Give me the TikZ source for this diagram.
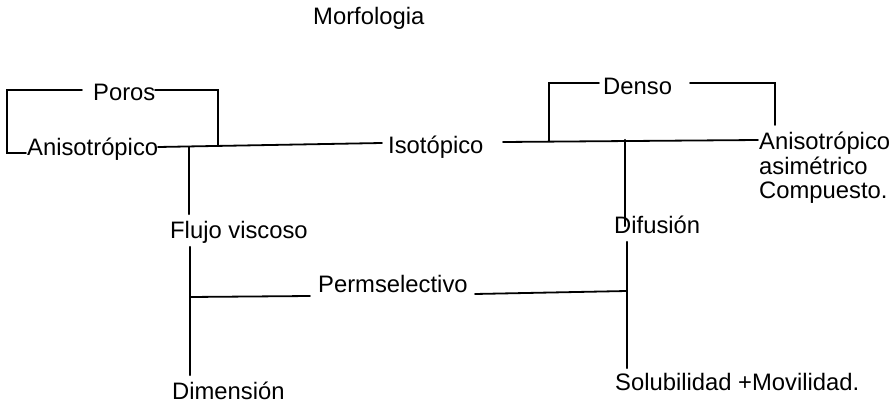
\documentclass[tikz,border=0pt]{standalone}
\usepackage{fontspec}
\setmainfont{Liberation Sans}
\begin{document}
\begin{tikzpicture}[x=1pt,y=-1pt,
  lbl/.style={anchor=base west,inner sep=0pt,font=\fontsize{23.8}{25}\selectfont},
  wire/.style={line width=1.8pt,line cap=round,line join=miter},
  stem/.style={line width=2.2pt,line cap=round,line join=miter}]
\useasboundingbox[fill=white] (0,0) rectangle (892,404);

% labels
\node[lbl] (title) at (313,25) {Morfologia};
\node[lbl] (poros) at (93,100) {Poros};
\node[lbl] (aniso) at (27,155) {Anisotrópico};
\node[lbl] (iso) at (388,153) {Isotópico};
\node[lbl] (denso) at (603,95) {Denso};
\node[lbl,align=left,text width=140pt] (asim) at (759,149) {Anisotrópico\\asimétrico\\Compuesto.};
\node[lbl] (flujo) at (170,238) {Flujo viscoso};
\node[lbl] (difu) at (614,233) {Difusión};
\node[lbl] (perm) at (318,292) {Permselectivo};
\node[lbl] (dim) at (172,399) {Dimensión};
\node[lbl] (solu) at (615,390) {Solubilidad +Movilidad.};

% junction points
\coordinate (pL1) at (82,90);
\coordinate (pL2) at (7,90);
\coordinate (pL3) at (7,153);
\coordinate (pL4) at (26,153);
\coordinate (pR1) at (155,90);
\coordinate (pR2) at (218,90);
\coordinate (pR3) at (218,146);
\coordinate (m0) at (158,147);
\coordinate (m1) at (382,143);
\coordinate (m2) at (503,142);
\coordinate (m3) at (758,140);
\coordinate (vL0) at (189,147);
\coordinate (vL1) at (189,214);
\coordinate (vL2) at (190,247);
\coordinate (vL3) at (190,375);
\coordinate (h0) at (190,297);
\coordinate (h1) at (310,296);
\coordinate (h2) at (475,294);
\coordinate (dL1) at (549,141);
\coordinate (dL2) at (549,83);
\coordinate (dL3) at (599,83);
\coordinate (dR1) at (690,83);
\coordinate (dR2) at (775,83);
\coordinate (dR3) at (775,125);
\coordinate (vR0) at (625,140);
\coordinate (vR1) at (625,226);
\coordinate (vR2) at (627,242);
\coordinate (vR3) at (627,368);
\coordinate (hR) at (627,291);

% Poros bracket
\draw[wire] (pL1) -- (pL2) -- (pL3) -- (pL4);
\draw[wire] (pR1) -- (pR2) -- (pR3);

% main line through Isotópico
\draw[wire] (m0) -- (m1);
\draw[wire] (m2) -- (m3);

% Denso bracket
\draw[wire] (dL1) -- (dL2) -- (dL3);
\draw[wire] (dR1) -- (dR2) -- (dR3);

% left branch
\draw[stem] (vL0) -- (vL1);
\draw[stem] (vL2) -- (vL3);

% right branch
\draw[stem] (vR0) -- (vR1);
\draw[stem] (vR2) -- (vR3);

% Permselectivo link
\draw[wire] (h0) -- (h1);
\draw[wire] (h2) -- (hR);
\end{tikzpicture}
\end{document}
